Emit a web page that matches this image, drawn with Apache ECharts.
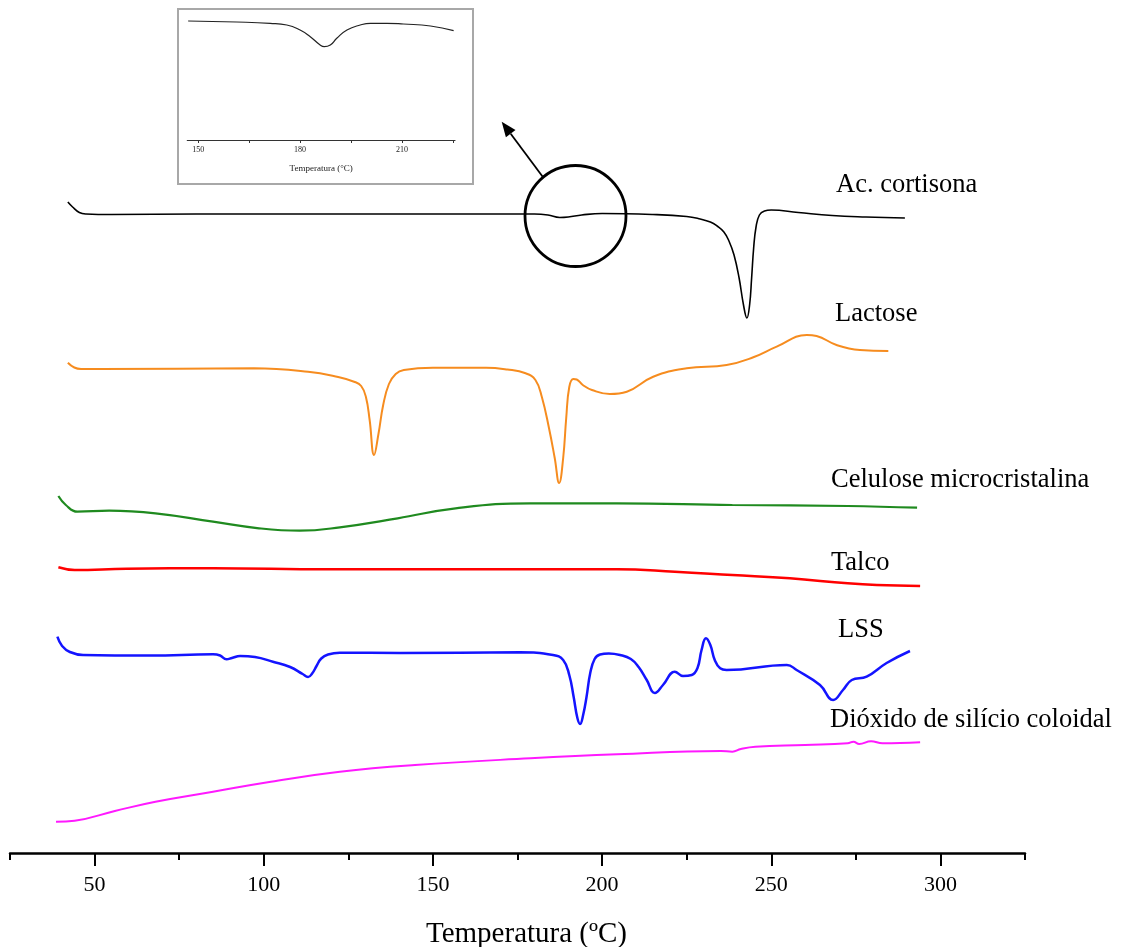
<!DOCTYPE html>
<html>
<head>
<meta charset="utf-8">
<script src="https://cdn.jsdelivr.net/npm/echarts@6/dist/echarts.min.js"></script>
<style>html,body{margin:0;padding:0;background:#fff}#c{width:1126px;height:947px}</style>
</head>
<body>
<div id="c"></div>
<script>
// Temperatures (ºC) and relative heat-flow (arbitrary units, offset per curve)
const acCortisona = [[42.1,65.1],[43.5,64.6],[45.5,64.05],[47.5,63.9],[55,63.85],[80,63.9],[120,63.9],[160,63.9],[180,63.9],[184,63.8],[187.5,63.55],[190,63.6],[194,63.8],[200,63.95],[215,63.85],[225,63.65],[229,63.4],[232,63.1],[234,62.7],[236,62.1],[237.5,61.2],[239,59.8],[240.5,57.5],[241.8,54.8],[242.8,53.5],[243.6,54.8],[244.2,57.5],[244.8,60.5],[245.5,62.6],[246.5,63.8],[248,64.2],[250,64.3],[258,64.05],[268,63.75],[278,63.6],[289.5,63.5]];
const lactose = [[42.1,49.03],[44,48.55],[46,48.4],[51.8,48.4],[97.1,48.47],[113.1,48.13],[122,47.6],[126.7,47.13],[128.8,46.7],[130.2,45.6],[131.3,43.3],[132.6,39.8],[133.9,41.9],[135.3,44.8],[137,46.9],[139,47.9],[141.4,48.3],[150,48.53],[165.7,48.53],[172,48.35],[177.4,47.97],[180.3,47.3],[182.2,45.6],[184.3,42.5],[186,39.5],[187.3,37.0],[188.5,39.5],[189.4,43.5],[190.3,46.6],[191.5,47.4],[192.5,47.35],[194.3,46.8],[197,46.3],[202.3,45.9],[207.3,46.13],[215.1,47.63],[225.0,48.47],[236.8,48.8],[244.7,49.57],[251.6,50.63],[260.5,51.8],[263.4,51.7],[269.3,50.8],[276.2,50.3],[284.6,50.2]];
const celulose = [[39.3,35.7],[41.5,34.8],[44.9,34.13],[54.3,34.23],[68.0,33.97],[85.0,33.13],[98.6,32.47],[110.6,32.23],[122.5,32.57],[139.6,33.47],[156.7,34.47],[178.8,34.97],[204.4,34.97],[238.5,34.8],[272.6,34.7],[293.1,34.53]];
const talco = [[39.3,28.57],[44.1,28.3],[59.5,28.43],[85.0,28.47],[119.1,28.37],[170.3,28.37],[204.4,28.37],[221.5,28.13],[238.5,27.8],[255.5,27.47],[272.6,26.97],[281.2,26.8],[294.0,26.7]];
const lss = [[39.0,21.63],[40.4,20.7],[42.7,20.1],[46.6,19.8],[66.4,19.75],[85.0,19.87],[87.1,19.75],[89.0,19.37],[90.6,19.5],[93.0,19.7],[97.4,19.6],[102.7,19.13],[107.8,18.6],[111.5,17.9],[113.1,17.6],[114.3,17.95],[115.6,18.7],[117,19.45],[119,19.85],[122.5,20.03],[140.3,20.0],[175.7,20.07],[185.5,19.8],[188.5,19.3],[190.3,17.8],[191.6,15.6],[192.7,13.5],[193.5,12.9],[194.4,13.8],[195.4,15.6],[196.5,18.0],[197.8,19.4],[199.4,19.85],[202,19.95],[205.3,19.8],[208.5,19.4],[210.8,18.6],[213.2,17.3],[215.6,16.0],[218.0,16.8],[221.5,18.13],[223.9,17.7],[226.5,17.8],[228.2,18.5],[229.4,20.3],[230.7,21.47],[232.0,20.8],[233.3,19.3],[234.9,18.47],[236.8,18.3],[254.6,18.8],[257.5,18.3],[264.4,16.8],[268.3,15.3],[271.2,16.3],[273.8,17.3],[278.2,17.63],[284.1,19.0],[291.0,20.2]];
const dioxido = [[38.6,3.13],[44.1,3.23],[56,4.2],[68.0,5.13],[85.0,6.13],[102.1,7.13],[122.5,8.13],[144.7,8.8],[178.8,9.47],[204.4,9.87],[235.1,10.2],[238.5,10.13],[241,10.4],[245.3,10.63],[260,10.8],[272.6,10.97],[274.3,11.13],[276.0,10.9],[279.5,11.17],[282.9,10.97],[294.0,11.07]];
// inset (zoom of Ac. cortisona around 180 ºC)
const insetCurve = [[147.05,11.9],[161.3,11.8],[171.2,11.67],[176.1,11.5],[180.0,11.0],[183.0,10.33],[185.9,9.5],[187.1,9.33],[188.9,9.5],[190.8,10.17],[193.8,11.0],[197.7,11.5],[200.7,11.67],[205.6,11.67],[210.4,11.6],[218.4,11.4],[225.2,10.93]];

const mainMajorTicks = [50,100,150,200,250,300];
const mainMinorTicks = [25,75,125,175,225,275,325];
const insetTicks = [150,165,180,195,210,225];
const insetLabels = [150,180,210];

const seriesNames = ['Ac. cortisona','Lactose','Celulose microcristalina','Talco','LSS','Dióxido de silício coloidal'];
const seriesColors = ['#000000','#f68c1f','#1f8a1f','#ff0000','#1414ff','#ff19ff'];
const seriesData = [acCortisona, lactose, celulose, talco, lss, dioxido];
const seriesWidths = [1.6, 2, 2.2, 2.5, 2.5, 2];
const labelPos = [[836,185],[835,314],[831,480],[831,563],[838,630],[830,720]];

const SERIF = '"Liberation Serif", "DejaVu Serif", serif';
const chart = echarts.init(document.getElementById('c'), null, {renderer:'canvas'});

const series = seriesData.map((d,i)=>({
  name: seriesNames[i], type:'line', xAxisIndex:0, yAxisIndex:0, data:d,
  showSymbol:false, smooth:0.45,
  lineStyle:{color:seriesColors[i], width:seriesWidths[i]}, silent:true
}));
series.push({type:'line', xAxisIndex:2, yAxisIndex:1, data:insetCurve, showSymbol:false, smooth:0.5, lineStyle:{color:'#222', width:1.2}, silent:true});

const graphics = labelPos.map((p,i)=>({
  type:'text', x:p[0], y:p[1], style:{text:seriesNames[i], font:'26.5px '+SERIF, fill:'#000', textVerticalAlign:'middle'}
}));
graphics.push({type:'rect', shape:{x:178,y:9,width:295,height:175}, style:{fill:'none', stroke:'#a8a8a8', lineWidth:2}, z:-1});
graphics.push({type:'circle', shape:{cx:575.5,cy:216,r:50.5}, style:{fill:'none', stroke:'#000', lineWidth:2.8}});
graphics.push({type:'line', shape:{x1:542.7,y1:176.7,x2:510.7,y2:133.7}, style:{stroke:'#000', lineWidth:1.8}});
graphics.push({type:'polygon', shape:{points:[[501.7,121.7],[515.5,130.1],[505.9,137.3]]}, style:{fill:'#000'}});

chart.setOption({
  animation:false,
  backgroundColor:'#fff',
  grid:[
    {left:10, right:101, top:153, bottom:94, outerBoundsMode:'none', containLabel:false},
    {left:187.3, right:671, top:15, bottom:807, outerBoundsMode:'none', containLabel:false}
  ],
  xAxis:[
    {gridIndex:0, type:'value', position:'bottom', min:25, max:325,
     axisLine:{lineStyle:{color:'#000', width:2.5}},
     axisTick:{customValues:mainMajorTicks, length:13, lineStyle:{color:'#000', width:2}},
     axisLabel:{customValues:mainMajorTicks, color:'#000', fontSize:22, fontFamily:SERIF, margin:21},
     splitLine:{show:false},
     name:'Temperatura (ºC)', nameLocation:'middle', nameGap:67,
     nameTextStyle:{color:'#000', fontSize:29, fontFamily:SERIF, padding:[0,0,0,18]}},
    {gridIndex:0, type:'value', position:'bottom', min:25, max:325,
     axisLine:{show:false},
     axisTick:{customValues:mainMinorTicks, length:7, lineStyle:{color:'#000', width:2}},
     axisLabel:{show:false}, splitLine:{show:false}},
    {gridIndex:1, type:'value', position:'bottom', min:146.8, max:225.6,
     axisLine:{lineStyle:{color:'#333', width:1.2}},
     axisTick:{customValues:insetTicks, length:3, lineStyle:{color:'#333', width:1}},
     axisLabel:{customValues:insetLabels, color:'#222', fontSize:8, fontFamily:SERIF, margin:6},
     splitLine:{show:false},
     name:'Temperatura (°C)', nameLocation:'middle', nameGap:24,
     nameTextStyle:{color:'#222', fontSize:9, fontFamily:SERIF}}
  ],
  yAxis:[
    {gridIndex:0, type:'value', min:0, max:70, show:false, splitLine:{show:false}},
    {gridIndex:1, type:'value', min:0, max:12.5, show:false, splitLine:{show:false}}
  ],
  series:series,
  graphic:graphics
});
</script>
</body>
</html>
